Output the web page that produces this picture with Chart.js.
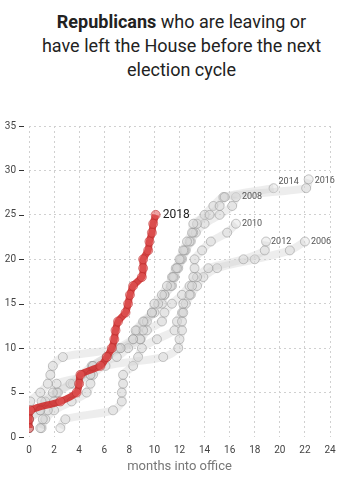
<!DOCTYPE html>
<html>
<head>
<meta charset="utf-8">
<script src="https://cdn.jsdelivr.net/npm/chart.js@4.4.0/dist/chart.umd.min.js"></script>
<style>
  body { margin: 0; background: #fff; }
  #wrap { position: relative; width: 363px; height: 490px; }
  #title {
    position: absolute; top: 10px; left: 0; width: 363px;
    text-align: center; font-family: Roboto, sans-serif; font-size: 18px;
    line-height: 24px; color: #222;
  }
  canvas { position: absolute; top: 0; left: 0; }
</style>
</head>
<body>
<div id="wrap">
  <div id="title"><b>Republicans</b> who are leaving or<br>have left the House before the next<br>election cycle</div>
  <canvas id="chart" width="363" height="490"></canvas>
</div>
<script>
// months into office at each departure (count = position in list)
const years = ['2018', '2016', '2014', '2008', '2010', '2012', '2006'];
const m2018 = [0, 0, 0.1, 2.5, 3.8, 4.0, 4.1, 5.7, 6.2, 6.6, 6.8, 6.9, 7.1, 7.7, 7.9, 8.05, 8.3, 9.0, 9.1, 9.1, 9.5, 9.6, 9.8, 9.9, 10.1];
const m2016 = [0, 0, 0.1, 0.1, 0.9, 1.5, 1.7, 1.9, 2.7, 7.3, 8.3, 8.5, 9.1, 9.8, 10.0, 10.6, 11.0, 11.5, 11.8, 12.0, 12.3, 12.6, 13.0, 13.1, 14.4, 15.2, 15.6, 22.1, 22.3];
const m2014 = [0, 0, 0.9, 1.0, 1.9, 2.2, 4.9, 5.1, 7.0, 7.9, 8.85, 9.1, 9.4, 9.8, 10.3, 10.8, 11.3, 11.4, 11.7, 12.1, 12.4, 12.8, 13.1, 13.4, 14.0, 14.7, 15.5, 19.5];
const m2008 = [0.9, 1.1, 1.5, 2.0, 2.3, 3.3, 4.2, 5.0, 6.2, 7.1, 8.3, 8.6, 9.2, 10.0, 10.6, 10.8, 11.4, 11.6, 11.9, 12.2, 12.5, 12.9, 13.3, 14.0, 15.2, 16.2, 16.5];
const m2010 = [1.0, 1.3, 2.0, 3.4, 4.6, 4.9, 5.1, 6.1, 10.7, 11.9, 12.0, 12.2, 12.2, 12.3, 12.3, 12.8, 13.0, 13.1, 13.2, 13.2, 13.8, 14.5, 15.8, 16.5];
const m2012 = [0, 0, 0.9, 1.3, 2.2, 3.5, 4.9, 5.1, 6.2, 7.3, 8.9, 9.4, 10.6, 10.8, 11.4, 12.2, 12.8, 13.4, 14.3, 17.1, 18.8, 18.9];
const m2006 = [2.5, 2.9, 6.7, 7.4, 7.4, 7.5, 7.5, 8.3, 8.7, 9.0, 10.2, 11.6, 11.8, 12.2, 12.5, 12.9, 13.4, 13.9, 15.0, 18.0, 20.8, 22.0];
const xTicks = [0, 2, 4, 6, 8, 10, 12, 14, 16, 18, 20, 22, 24];
const yTicks = [0, 5, 10, 15, 20, 25, 30, 35];

const months = [m2018, m2016, m2014, m2008, m2010, m2012, m2006];
// label offsets in px next to the last point
const labelOffsets = {
  '2018': [7, 0], '2016': [6, 1], '2014': [5, -6], '2008': [6, 0],
  '2010': [6, 0], '2012': [5, 0], '2006': [6, 0]
};

const toPoints = arr => arr.map((m, i) => ({ x: m, y: i + 1 }));

const datasets = years.map((yr, i) => {
  const red = yr === '2018';
  return {
    label: yr,
    data: toPoints(months[i]),
    showLine: true,
    tension: 0.3,
    borderColor: red ? 'rgba(205,35,35,0.85)' : 'rgba(210,210,210,0.4)',
    borderWidth: red ? 7 : 8,
    pointRadius: 4.5,
    pointBackgroundColor: red ? 'rgba(225,85,85,0.55)' : 'rgba(215,215,215,0.35)',
    pointBorderColor: red ? 'rgba(185,40,40,0.5)' : 'rgba(130,130,130,0.45)',
    pointBorderWidth: 1
  };
});

const yearLabels = {
  id: 'yearLabels',
  afterDatasetsDraw(chart) {
    const ctx = chart.ctx;
    ctx.save();
    ctx.textBaseline = 'middle';
    chart.data.datasets.forEach((ds, i) => {
      const meta = chart.getDatasetMeta(i);
      const last = meta.data[meta.data.length - 1];
      const off = labelOffsets[ds.label];
      if (ds.label === '2018') {
        ctx.font = '12px Roboto, sans-serif';
        ctx.fillStyle = '#222';
      } else {
        ctx.font = '9px Roboto, sans-serif';
        ctx.fillStyle = '#555';
      }
      ctx.fillText(ds.label, last.x + off[0], last.y + off[1]);
    });
    ctx.restore();
  }
};

// short dark dashes next to the y labels
const yTickMarks = {
  id: 'yTickMarks',
  afterDraw(chart) {
    const ctx = chart.ctx;
    const y = chart.scales.y;
    ctx.save();
    ctx.strokeStyle = '#333';
    ctx.lineWidth = 1;
    yTicks.forEach(v => {
      const py = Math.round(y.getPixelForValue(v)) + 0.5;
      ctx.beginPath();
      ctx.moveTo(19, py);
      ctx.lineTo(24, py);
      ctx.stroke();
    });
    ctx.restore();
  }
};

new Chart(document.getElementById('chart'), {
  type: 'scatter',
  data: { datasets },
  options: {
    responsive: false,
    animation: false,
    layout: { padding: { top: 126, right: 33, bottom: 0, left: 0 } },
    plugins: { legend: { display: false }, tooltip: { enabled: false } },
    scales: {
      x: {
        type: 'linear',
        min: 0, max: 24,
        afterBuildTicks: s => { s.ticks = xTicks.map(v => ({ value: v })); },
        afterFit: s => { s.height = 53; },
        border: { display: false, dash: [2, 3] },
        grid: { color: '#d0d0d0', drawTicks: false },
        ticks: { color: '#444', font: { family: 'Roboto', size: 10 }, padding: 7 },
        title: {
          display: true, text: 'months into office', color: '#777',
          font: { family: 'Roboto', size: 13 }, padding: { top: 0, bottom: 15 }
        }
      },
      y: {
        type: 'linear',
        min: 0, max: 35,
        afterBuildTicks: s => { s.ticks = yTicks.map(v => ({ value: v })); },
        afterFit: s => { s.width = 29; },
        border: { display: false, dash: [2, 3] },
        grid: {
          color: c => (c.tick && c.tick.value === 0) ? 'rgba(0,0,0,0)' : '#d0d0d0',
          drawTicks: false
        },
        ticks: { color: '#444', font: { family: 'Roboto', size: 10 }, padding: 13 }
      }
    }
  },
  plugins: [yearLabels, yTickMarks]
});
</script>
</body>
</html>
